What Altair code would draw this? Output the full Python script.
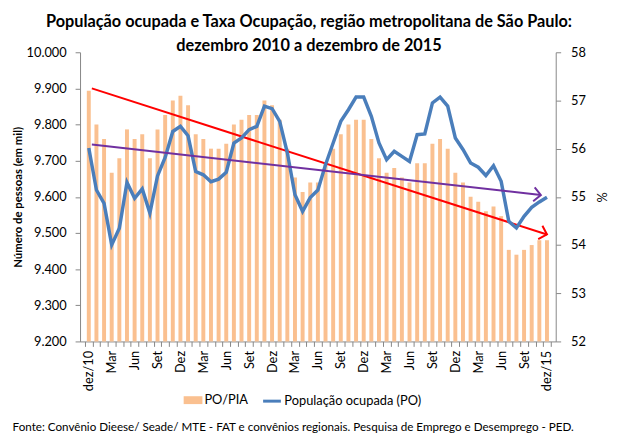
import altair as alt
import pandas as pd

# ---------------- data ----------------
meses = ["jan", "fev", "mar", "abr", "mai", "jun", "jul", "ago", "set", "out", "nov", "dez"]
anos = ["11", "12", "13", "14", "15"]
periodos = ["dez/10"] + [f"{m}/{a}" for a in anos for m in meses]

# PO/PIA (%) - right axis
po_pia = [57.2, 56.5, 56.2, 55.5, 55.8, 56.4, 56.2, 56.3, 55.8, 56.4,
          56.7, 57.0, 57.1, 56.9, 56.3, 56.2, 56.0, 56.0, 56.1, 56.5,
          56.6, 56.7, 56.7, 57.0, 56.9, 56.6, 56.0, 55.4, 55.1, 55.3,
          55.3, 55.7, 56.0, 56.3, 56.5, 56.6, 56.6, 56.2, 55.8, 55.5,
          55.6, 55.4, 55.3, 55.7, 55.7, 56.1, 56.2, 56.0, 55.5, 55.3,
          55.0, 54.9, 54.7, 54.8, 54.6, 53.9, 53.8, 53.9, 54.0, 54.1,
          54.1]

# População ocupada (em mil) - left axis
po = [9735, 9619, 9582, 9467, 9513, 9640, 9596, 9622, 9555, 9658,
      9709, 9781, 9795, 9769, 9670, 9661, 9642, 9649, 9668, 9749,
      9763, 9786, 9795, 9851, 9844, 9809, 9722, 9606, 9560, 9598,
      9619, 9689, 9749, 9809, 9841, 9876, 9876, 9823, 9749, 9703,
      9726, 9712, 9698, 9772, 9774, 9860, 9876, 9851, 9763, 9731,
      9694, 9682, 9659, 9686, 9643, 9532, 9514, 9546, 9571, 9586,
      9599]

# hand-drawn trend arrows (start / end)
seta_pct_i = [0.4, 60.0]
seta_pct_v = [57.25, 54.22]
seta_po_i = [0.4, 59.2]
seta_po_v = [9745, 9605]

tick_labels = ["dez/10", "Mar", "Jun", "Set", "Dez", "Mar", "Jun", "Set", "Dez",
               "Mar", "Jun", "Set", "Dez", "Mar", "Jun", "Set", "Dez", "Mar",
               "Jun", "Set", "dez/15"]

titulo = ["População ocupada e Taxa Ocupação, região metropolitana de São Paulo:",
          "dezembro 2010 a dezembro de 2015"]
fonte = ["Fonte: Convênio Dieese/ Seade/ MTE - FAT e convênios regionais. Pesquisa de Emprego e Desemprego - PED."]
serie_barras = "PO/PIA"
serie_linha = "População ocupada  (PO)"

df = pd.DataFrame({"i": list(range(len(periodos))), "periodo": periodos,
                   "po_pia": po_pia, "po": po,
                   "serie_b": [serie_barras] * len(periodos),
                   "serie_l": [serie_linha] * len(periodos)})
df_seta_pct = pd.DataFrame({"i": seta_pct_i, "po_pia": seta_pct_v, "fim": [0, 1]})
df_seta_po = pd.DataFrame({"i": seta_po_i, "po": seta_po_v, "fim": [0, 1]})

# ---------------- style ----------------
FONT = "Lato"
AXIS_GRAY = "#868686"
BAR_COLOR = "#FAC090"
LINE_COLOR = "#4A7EBB"
W, H = 482, 293
n = len(periodos)
half_band = W / n / 2

labs_js = "[" + ",".join(f"'{t}'" for t in tick_labels) + "]"
x_label_expr = f"(datum.value + 0.5) % 3 == 0 ? {labs_js}[(datum.value + 0.5) / 3] : ''"

x_enc = alt.X(
    "i:Q",
    scale=alt.Scale(domain=[-0.5, n - 0.5], nice=False, zero=False),
    axis=alt.Axis(
        values=[k - 0.5 for k in range(n + 1)],
        labelExpr=x_label_expr,
        labelAngle=270,
        labelOffset=half_band,
        labelOverlap=False,
        labelBound=False,
        labelFlush=False,
        labelPadding=4,
        labelFont=FONT,
        labelFontSize=13,
        labelColor="#000000",
        tickSize=5,
        tickColor=AXIS_GRAY,
        domainColor=AXIS_GRAY,
        grid=False,
        title=None,
    ),
)

y_pct = alt.Y(
    "po_pia:Q",
    scale=alt.Scale(domain=[52, 58], nice=False, zero=False),
    axis=alt.Axis(
        orient="right",
        values=list(range(52, 59)),
        format="d",
        labelOverlap=False,
        labelFont=FONT,
        labelFontSize=13,
        labelColor="#000000",
        labelPadding=10,
        tickSize=5,
        tickColor=AXIS_GRAY,
        domainColor=AXIS_GRAY,
        grid=False,
        title="%",
        titleFont=FONT,
        titleFontSize=13,
        titleFontWeight="normal",
        titleAngle=270,
        titlePadding=24,
        titleColor="#000000",
    ),
)

y_po = alt.Y(
    "po:Q",
    scale=alt.Scale(domain=[9200, 10000], nice=False, zero=False),
    axis=alt.Axis(
        orient="left",
        values=list(range(9200, 10001, 100)),
        labelExpr="replace(format(datum.value, ',.0f'), ',', '.')",
        labelOverlap=False,
        labelFont=FONT,
        labelFontSize=13,
        labelColor="#000000",
        labelPadding=9,
        tickSize=5,
        tickColor=AXIS_GRAY,
        domainColor=AXIS_GRAY,
        grid=False,
        title="Número de pessoas (em mil)",
        titleFont=FONT,
        titleFontSize=11.5,
        titleFontWeight="bold",
        titlePadding=3,
        titleColor="#000000",
    ),
)

base = alt.Chart(df)

bars = base.mark_bar(width=4).encode(
    x=x_enc,
    y=y_pct,
    y2=alt.datum(52),
    color=alt.Color(
        "serie_b:N",
        scale=alt.Scale(domain=[serie_barras], range=[BAR_COLOR]),
        legend=alt.Legend(
            title=None, orient="none", legendX=105, legendY=343, padding=0,
            symbolType="M-1,-0.42H1V0.42H-1Z", symbolSize=361, symbolStrokeWidth=0,
            labelFont=FONT, labelFontSize=13, labelColor="#000000", labelOffset=2,
        ),
    ),
)

red_trend = alt.Chart(df_seta_pct).mark_line(
    color="#FF0000", strokeWidth=2
).encode(x=x_enc, y=y_pct)

red_head = alt.Chart(df_seta_pct).transform_filter("datum.fim == 1").mark_point(
    shape="M-1,-1L0,0L-1,1", size=200, filled=False, strokeWidth=2,
    color="#FF0000", opacity=1, angle=17.5,
).encode(x=x_enc, y=y_pct)

line = base.mark_line(strokeWidth=3.5).encode(
    x=x_enc,
    y=y_po,
    stroke=alt.Stroke(
        "serie_l:N",
        scale=alt.Scale(domain=[serie_linha], range=[LINE_COLOR]),
        legend=alt.Legend(
            title=None, orient="none", legendX=184, legendY=343, padding=0,
            symbolType="stroke", symbolSize=324, symbolStrokeWidth=3,
            labelFont=FONT, labelFontSize=13, labelColor="#000000", labelOffset=2,
        ),
    ),
)

purple_trend = alt.Chart(df_seta_po).mark_line(
    color="#7030A0", strokeWidth=2
).encode(x=x_enc, y=y_po)

purple_head = alt.Chart(df_seta_po).transform_filter("datum.fim == 1").mark_point(
    shape="M-1,-1L0,0L-1,1", size=200, filled=False, strokeWidth=2,
    color="#7030A0", opacity=1, angle=6.3,
).encode(x=x_enc, y=y_po)

note = alt.Chart(pd.DataFrame({"t": fonte})).mark_text(
    font=FONT, fontSize=11.8, color="#000000", align="center", baseline="middle"
).encode(text="t:N", x=alt.value(216), y=alt.value(380))

left_group = alt.layer(bars, red_trend, red_head)
right_group = alt.layer(line, purple_trend, purple_head)

chart = (
    alt.layer(left_group, right_group, note)
    .resolve_scale(y="independent")
    .properties(
        width=W,
        height=H,
        autosize=alt.AutoSizeParams(type="none"),
        padding={"left": 73, "top": 42, "right": 55, "bottom": 97},
        title=alt.Title(
            titulo, font=FONT, fontSize=16.5, fontWeight="bold", color="#000000",
            lineHeight=24, anchor="middle", offset=-8, dx=-9,
        ),
    )
    .configure_view(stroke="transparent")
)

chart.save("out.html", embed_options={"renderer": "svg", "actions": False})
